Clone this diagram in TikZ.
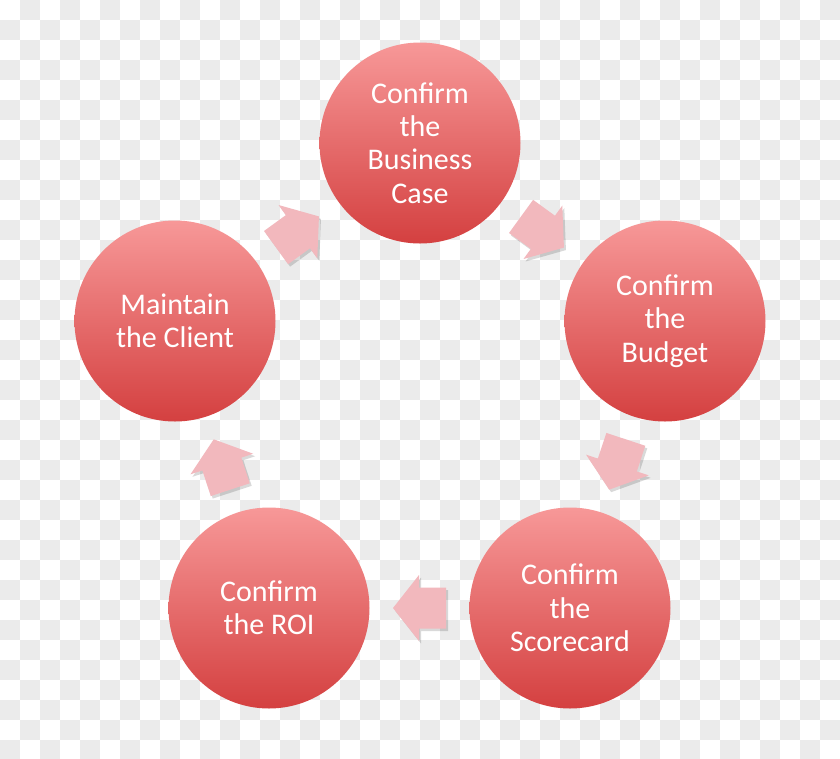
\documentclass[tikz,border=0pt]{standalone}
\usepackage{fontspec}
\setmainfont{Carlito}
\usetikzlibrary{calc}
\definecolor{checkgray}{RGB}{235,235,235}
\definecolor{bubbletop}{RGB}{247,152,152}
\definecolor{bubblebot}{RGB}{212,64,64}
\definecolor{arrowfill}{RGB}{242,184,189}
\tikzset{
  bubble/.style={circle, inner sep=0pt, minimum size=150.75pt, top color=bubbletop, bottom color=bubblebot, draw=none, text=white, align=center, font=\fontsize{22.5pt}{25pt}\selectfont},
  checker/.style={fill=checkgray},
  blockarrowfill/.style={fill=arrowfill},
  blockarrowshadow/.style={fill=black, opacity=0.15}
}
\newcommand\cyclearrow[2]{%
  \pgfmathanglebetweenpoints{\pgfpointanchor{#1}{center}}{\pgfpointanchor{#2}{center}}%
  \let\arrang\pgfmathresult
  \begin{scope}[shift={($(#1)!0.5!(#2)+(2,2.5)$)}, rotate=\arrang]
    \path[blockarrowshadow] (-26.5,-20.5) -- (0.5,-20.5) -- (0.5,-33) -- (26.5,0) -- (0.5,33) -- (0.5,20.5) -- (-26.5,20.5) -- cycle;
  \end{scope}
  \begin{scope}[shift={($(#1)!0.5!(#2)$)}, rotate=\arrang]
    \path[blockarrowfill] (-26.5,-20.5) -- (0.5,-20.5) -- (0.5,-33) -- (26.5,0) -- (0.5,33) -- (0.5,20.5) -- (-26.5,20.5) -- cycle;
  \end{scope}
}
\begin{document}
\begin{tikzpicture}[x=0.75pt, y=-0.75pt]
\useasboundingbox (0,0) rectangle (840,758);
\begin{scope}
  \clip (0,0) rectangle (840,758);
  \fill[white] (0,0) rectangle (840,758);
  \foreach \j in {0,...,37} {
    \foreach \i in {0,...,41} {
      \pgfmathtruncatemacro\chkpar{mod(\i+\j,2)}
      \ifnum\chkpar=1 \fill[checker] (\i*20,\j*20) rectangle ++(20,20); \fi
    }
  }
\end{scope}
\node[bubble] (T)  at (420,143) {Confirm\\the\\Business\\Case};
\node[bubble] (R)  at (665,321) {Confirm\\the\\Budget};
\node[bubble] (BR) at (570,608) {Confirm\\the\\Scorecard};
\node[bubble] (BL) at (269,608) {Confirm\\the ROI};
\node[bubble] (L)  at (175,321) {Maintain\\the Client};
\cyclearrow{L}{T}
\cyclearrow{T}{R}
\cyclearrow{R}{BR}
\cyclearrow{BR}{BL}
\cyclearrow{BL}{L}
\end{tikzpicture}
\end{document}
